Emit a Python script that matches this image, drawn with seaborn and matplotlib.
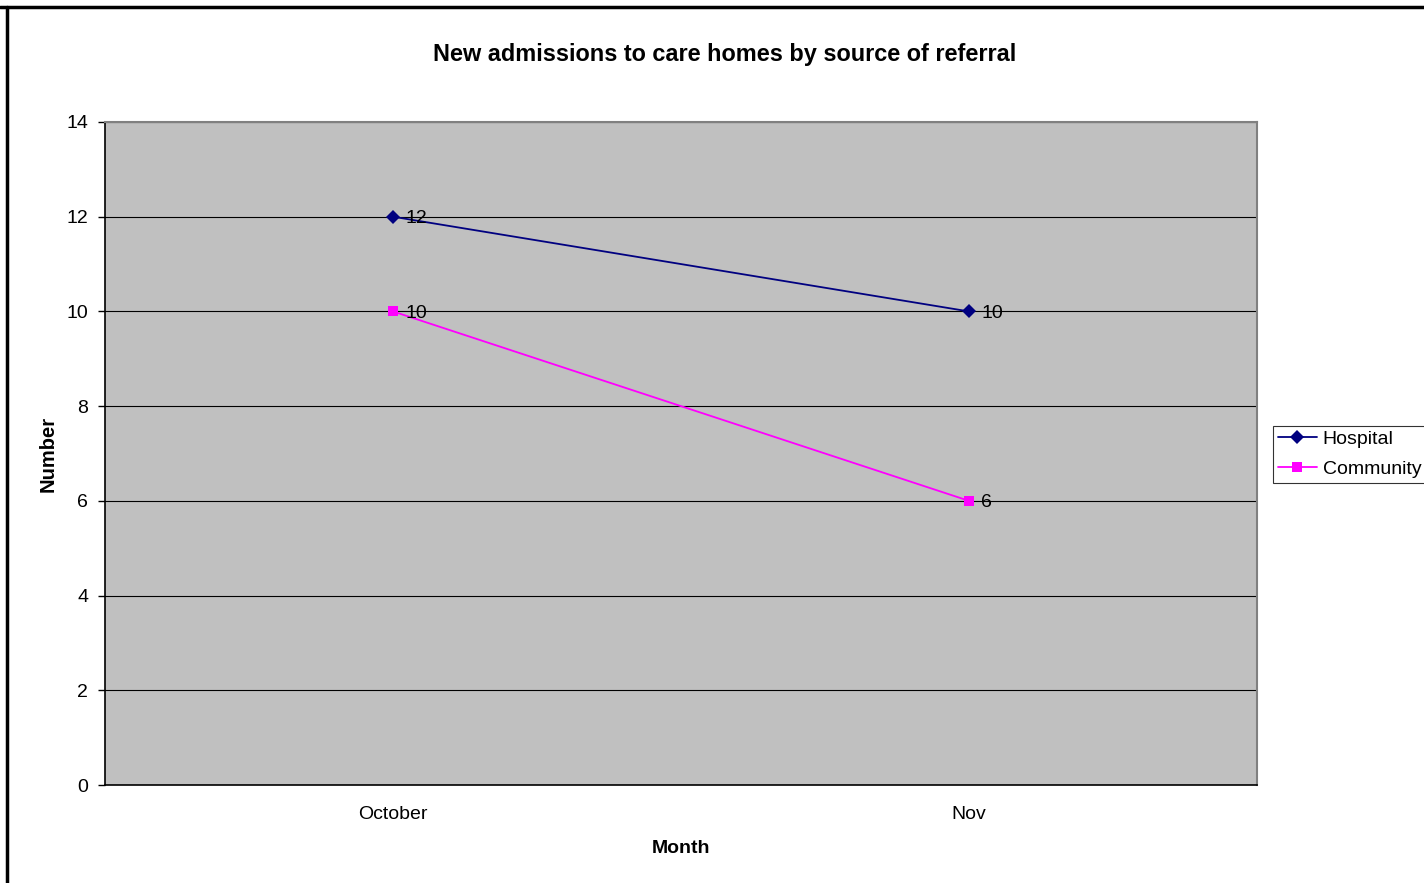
import matplotlib
matplotlib.use("Agg")
import matplotlib.pyplot as plt
from matplotlib.lines import Line2D
import seaborn as sns
import pandas as pd

months = ["October", "Nov"]
hospital = [12, 10]
community = [10, 6]
series_names = ["Hospital", "Community"]
y_ticks = [0, 2, 4, 6, 8, 10, 12, 14]

sns.set_theme(style="white")
plt.rcParams["font.family"] = ["Liberation Sans", "DejaVu Sans"]
plt.rcParams.update({
    "text.color": "black",
    "axes.labelcolor": "black",
    "xtick.color": "black",
    "ytick.color": "black",
})

df = pd.DataFrame({
    "Month": months * 2,
    "Number": hospital + community,
    "Source": [series_names[0]] * len(months) + [series_names[1]] * len(months),
})

palette = {"Hospital": "#000080", "Community": "#FF00FF"}
markers = {"Hospital": "D", "Community": "s"}

fig = plt.figure(figsize=(14.24, 8.83), dpi=100)
ax = fig.add_axes([105 / 1424, 1 - 785 / 883, (1257 - 105) / 1424, (785 - 122) / 883])
ax.set_facecolor("#C0C0C0")

sns.lineplot(data=df, x="Month", y="Number", hue="Source", style="Source",
             palette=palette, markers=markers, dashes=False, linewidth=1.3,
             markersize=7.5, markeredgewidth=0, ax=ax, legend=False, sort=False)

# value labels beside each point
for vals in (hospital, community):
    for i, v in enumerate(vals):
        ax.annotate(str(v), (i, v), xytext=(9, -1.2), textcoords="offset points",
                    ha="left", va="center", fontsize=14, color="black")

ax.set_xlim(-0.5, len(months) - 0.5)
ax.set_ylim(0, 14)
ax.set_yticks(y_ticks)
ax.set_yticklabels([str(t) for t in y_ticks], fontsize=14)
ax.set_xticks(range(len(months)))
ax.set_xticklabels(months, fontsize=14)
ax.set_xticks([i - 0.5 for i in range(len(months) + 1)], minor=True)
ax.tick_params(axis="x", which="major", length=0, pad=15)
ax.tick_params(axis="x", which="minor", length=5, width=1, color="black", direction="out")
ax.tick_params(axis="y", which="major", length=5, width=1, color="black", direction="out", pad=7, left=True)

ax.grid(axis="y", color="black", linewidth=0.8)
ax.set_axisbelow(True)

for side in ("top", "right"):
    ax.spines[side].set_visible(True)
    ax.spines[side].set_color("#808080")
    ax.spines[side].set_linewidth(1.5)
for side in ("left", "bottom"):
    ax.spines[side].set_color("#000000")
    ax.spines[side].set_linewidth(1.2)

ax.set_xlabel("Month", fontsize=14, fontweight="bold", labelpad=12.5)
ax.set_ylabel("Number", fontsize=14.5, fontweight="bold", labelpad=6.5)
fig.text(725 / 1424, 1 - 55 / 883, "New admissions to care homes by source of referral",
         ha="center", va="center", fontsize=16.9, fontweight="bold")

handles = [Line2D([0], [0], color=palette[n], marker=markers[n], markersize=7.5,
                  markeredgewidth=0, linewidth=1.3) for n in series_names]
leg = fig.legend(handles, series_names, loc="center left",
                 bbox_to_anchor=(1273 / 1424, 1 - 454 / 883), fontsize=14,
                 frameon=True, fancybox=False, handlelength=2.0, handletextpad=0.3,
                 borderpad=0.25, labelspacing=0.62, borderaxespad=0)
leg.get_frame().set_edgecolor("black")
leg.get_frame().set_linewidth(0.8)

# outer chart frame
fig.add_artist(Line2D([0, 1], [1 - 7 / 883, 1 - 7 / 883], color="black", linewidth=2.5,
                      transform=fig.transFigure))
fig.add_artist(Line2D([7 / 1424, 7 / 1424], [0, 1 - 7 / 883], color="black", linewidth=2.5,
                      transform=fig.transFigure))

fig.savefig("out.png", dpi=100)
